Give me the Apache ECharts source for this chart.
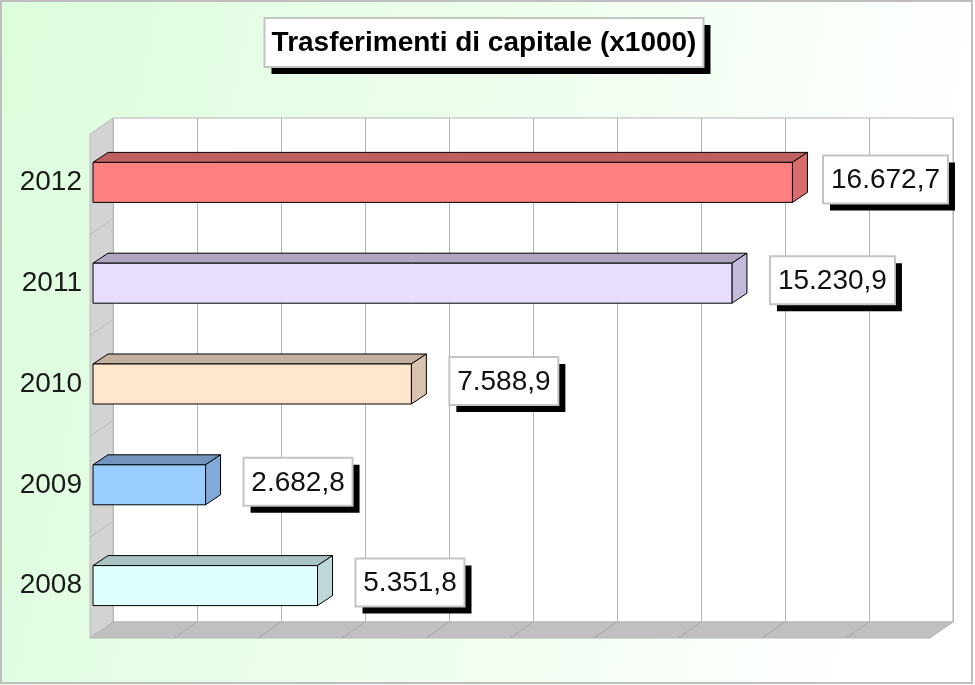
<!DOCTYPE html>
<html>
<head>
<meta charset="utf-8">
<script src="https://cdn.jsdelivr.net/npm/echarts@6/dist/echarts.min.js"></script>
<style>
    html, body { margin: 0; padding: 0; }
    #chartView { width: 975px; height: 685px; }
</style>
</head>
<body>
<div id="chartView"></div>
<script>
    // dati del grafico
    var years = ['2008', '2009', '2010', '2011', '2012'];
    var values = [5351.8, 2682.8, 7588.9, 15230.9, 16672.7];
    var axisMax = 20000;
    var axisStep = 2000;
    var titleText = 'Trasferimenti di capitale (x1000)';

    // colori barre: fronte, sopra, lato
    var faceColors = [
        ['#DFFFFF', '#A9C2C2', '#BFD9D9'],
        ['#99CCFF', '#7394BF', '#82AAD9'],
        ['#FFE6CC', '#C4B09E', '#D9C3AE'],
        ['#E8DDFF', '#B0A6C2', '#C6BADC'],
        ['#FF8080', '#BF6060', '#D96C6C']
    ];

    var FONT = '"Liberation Sans", Arial, sans-serif';
    var back = {left: 113, top: 118, width: 840, height: 504};
    var depth = {dx: 23, dy: 16};      // profondita pareti
    var barDepth = {dx: 15, dy: 10};   // profondita barre
    var barHeight = 40;

    var measureCtx = document.createElement('canvas').getContext('2d');
    function textWidth(txt, font) {
        measureCtx.font = font;
        return measureCtx.measureText(txt).width;
    }

    // formato italiano 16.672,7
    function fmtIt(v) {
        var parts = v.toFixed(1).split('.');
        return parts[0].replace(/\B(?=(\d{3})+(?!\d))/g, '.') + ',' + parts[1];
    }

    function renderBar(params, api) {
        var idx = api.value(1);
        var start = api.coord([0, idx]);
        var end = api.coord([api.value(0), idx]);
        var x0 = start[0], x1 = end[0], yc = end[1];
        var yt = yc - barHeight / 2, yb = yc + barHeight / 2;
        var dx = barDepth.dx, dy = barDepth.dy;
        var c = faceColors[idx];
        var lbl = fmtIt(api.value(0));
        var bw = Math.round(textWidth(lbl, '28px ' + FONT) + 16), bh = 48;
        var bx = Math.min(x1 + 38, 948 - bw);
        var by = yc - 3 - bh / 2;
        return {
            type: 'group',
            children: [
                {type: 'polygon', shape: {points: [[x0, yt], [x0 + dx, yt - dy], [x1 + dx, yt - dy], [x1, yt]]},
                    style: {fill: c[1], stroke: '#000', lineWidth: 1}},
                {type: 'polygon', shape: {points: [[x1, yt], [x1 + dx, yt - dy], [x1 + dx, yb - dy], [x1, yb]]},
                    style: {fill: c[2], stroke: '#000', lineWidth: 1}},
                {type: 'rect', shape: {x: x0, y: yt, width: x1 - x0, height: barHeight},
                    style: {fill: c[0], stroke: '#000', lineWidth: 1}},
                {type: 'rect', shape: {x: bx + 7, y: by + 7, width: bw, height: bh}, style: {fill: '#000'}},
                {type: 'rect', shape: {x: bx, y: by, width: bw, height: bh},
                    style: {fill: '#fff', stroke: '#C4C4C4', lineWidth: 2}},
                {type: 'text', style: {x: bx + bw / 2, y: by + bh / 2 + 1, text: lbl, align: 'center',
                        verticalAlign: 'middle', font: '28px ' + FONT, fill: '#111'}}
            ]
        };
    }

    var chartView = echarts.init(document.getElementById('chartView'));

    var option = {
        animation: false,
        backgroundColor: {
            type: 'linear', x: 0, y: 0, x2: 1, y2: 0.3,
            colorStops: [{offset: 0, color: '#DCFDDC'}, {offset: 1, color: '#FFFFFF'}]
        },
        grid: [
            {left: 93, right: 43, top: 132, bottom: 49},
            {left: back.left, top: back.top, width: back.width, height: back.height,
                show: true, backgroundColor: '#fff', borderColor: '#B4B4B4', borderWidth: 1}
        ],
        xAxis: [
            {gridIndex: 0, type: 'value', min: 0, max: axisMax, interval: axisStep, show: false},
            {gridIndex: 1, type: 'value', min: 0, max: axisMax, interval: axisStep,
                axisLine: {show: false}, axisTick: {show: false}, axisLabel: {show: false},
                splitLine: {show: true, lineStyle: {color: '#B4B4B4', width: 1}}}
        ],
        yAxis: [
            {gridIndex: 0, type: 'category', data: years,
                axisLine: {show: false}, axisTick: {show: false}, splitLine: {show: false},
                axisLabel: {fontSize: 28, fontFamily: FONT, color: '#1a1a1a', margin: 11}},
            {gridIndex: 1, type: 'category', data: years, show: false}
        ],
        series: [{
            type: 'custom',
            xAxisIndex: 0,
            yAxisIndex: 0,
            z: 5,
            clip: false,
            renderItem: renderBar,
            encode: {x: 0, y: 1},
            data: values.map(function (v, i) { return [v, i]; })
        }]
    };
    chartView.setOption(option);

    // pareti, pavimento e titolo
    var bx0 = back.left, bx1 = back.left + back.width;
    var by0 = back.top, by1 = back.top + back.height;
    var deco = [
        {type: 'polygon', z: 1, shape: {points: [[bx0 - depth.dx, by0 + depth.dy], [bx0, by0], [bx0, by1], [bx0 - depth.dx, by1 + depth.dy]]},
            style: {fill: '#D3D3D3', stroke: '#BDBDBD', lineWidth: 1}},
        {type: 'polygon', z: 1, shape: {points: [[bx0, by1], [bx1, by1], [bx1 - depth.dx, by1 + depth.dy], [bx0 - depth.dx, by1 + depth.dy]]},
            style: {fill: '#C0C0C0', stroke: '#B4B4B4', lineWidth: 1}}
    ];
    for (var v = axisStep; v < axisMax; v += axisStep) {
        var px = chartView.convertToPixel({xAxisIndex: 1}, v);
        deco.push({type: 'line', z: 1, shape: {x1: px, y1: by1, x2: px - depth.dx, y2: by1 + depth.dy},
            style: {stroke: '#A6A6A6', lineWidth: 1}});
    }
    for (var k = 1; k < years.length; k++) {
        var py = by0 + k * back.height / years.length;
        deco.push({type: 'line', z: 1, shape: {x1: bx0, y1: py, x2: bx0 - depth.dx, y2: py + depth.dy},
            style: {stroke: '#B8B8B8', lineWidth: 1}});
    }
    var titleFont = 'bold 28px ' + FONT;
    var tw = Math.round(textWidth(titleText, titleFont) + 14);
    var tx = 484 - tw / 2, ty = 18, th = 49;
    deco.push(
        {type: 'rect', z: 10, shape: {x: tx + 7, y: ty + 7, width: tw, height: th}, style: {fill: '#000'}},
        {type: 'rect', z: 10, shape: {x: tx, y: ty, width: tw, height: th}, style: {fill: '#fff', stroke: '#C4C4C4', lineWidth: 2}},
        {type: 'text', z: 11, style: {x: tx + tw / 2, y: ty + th / 2 + 1, text: titleText, align: 'center',
                verticalAlign: 'middle', font: titleFont, fill: '#000'}},
        {type: 'rect', z: 12, shape: {x: 1, y: 1, width: 971, height: 682}, style: {fill: null, stroke: '#BEBEBE', lineWidth: 2}}
    );
    chartView.setOption({graphic: {elements: deco}});
</script>
</body>
</html>
